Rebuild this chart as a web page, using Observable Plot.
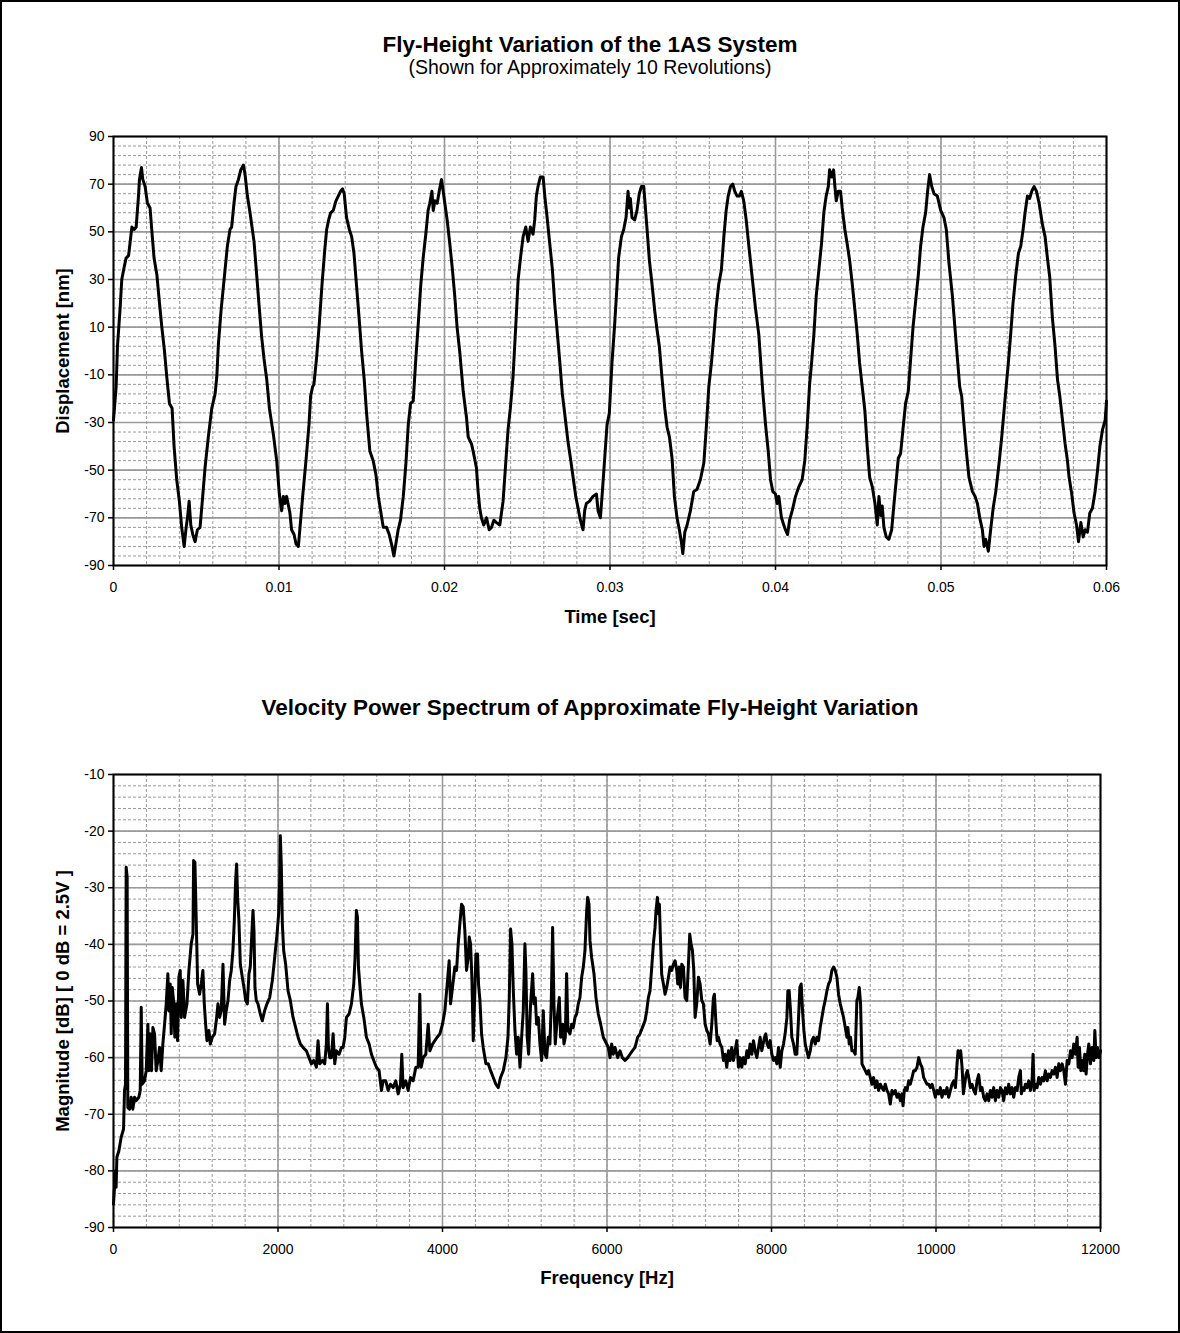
<!DOCTYPE html>
<html>
<head>
<meta charset="utf-8">
<script src="https://cdn.jsdelivr.net/npm/d3@7"></script>
<script src="https://cdn.jsdelivr.net/npm/@observablehq/plot@0.6"></script>
<style>
  body { margin: 0; background: #fff; }
  #page { position: relative; width: 1180px; height: 1333px; overflow: hidden; background: #fff;
          font-family: "Liberation Sans", Arial, sans-serif; color: #000; }
  #border { position: absolute; left: 0; top: 0; width: 1180px; height: 1333px; box-sizing: border-box;
            border: 2px solid #000; pointer-events: none; }
  .t { position: absolute; left: 0; width: 1180px; text-align: center; line-height: 1; white-space: nowrap; }
  .chart { position: absolute; left: 0; }
</style>
</head>
<body>
<div id="page">
  <div class="t" style="top:34px;font-size:22.5px;font-weight:bold;">Fly-Height Variation of the 1AS System</div>
  <div class="t" style="top:58px;font-size:19.5px;">(Shown for Approximately 10 Revolutions)</div>
  <div class="chart" id="chart1" style="top:100px;"></div>
  <div class="t" style="top:697px;font-size:22.5px;font-weight:bold;">Velocity Power Spectrum of Approximate Fly-Height Variation</div>
  <div class="chart" id="chart2" style="top:740px;"></div>
  <div id="border"></div>
</div>
<script>
// ---------- Data: fly-height time series, [time in ms, displacement in nm] ----------
const flyHeight = [
[0,-29],[0.16,-15],[0.24,2],[0.40,18],[0.50,30],[0.64,35],[0.76,39],[0.91,40],[1.01,46],[1.11,52],[1.25,51],[1.37,52],[1.51,65],[1.57,72],[1.69,77],[1.77,72],[1.91,69],[2.05,62],[2.21,60],[2.31,51],[2.45,39],[2.62,32],[2.78,20],[2.92,10],[3.08,0],[3.22,-11],[3.38,-22],[3.54,-24],[3.66,-40],[3.82,-54],[3.98,-63],[4.12,-74],[4.27,-82],[4.39,-74],[4.47,-70],[4.57,-63],[4.67,-73],[4.79,-77],[4.93,-80],[5.07,-75],[5.23,-74],[5.39,-61],[5.53,-49],[5.73,-36],[5.94,-24],[6.14,-18],[6.24,-11],[6.34,3],[6.50,17],[6.64,27],[6.74,34],[6.88,44],[7.04,51],[7.14,52],[7.28,62],[7.40,69],[7.55,72],[7.69,76],[7.85,78],[7.95,74],[8.09,65],[8.25,58],[8.35,53],[8.49,46],[8.65,32],[8.81,18],[8.95,6],[9.09,-3],[9.26,-12],[9.42,-24],[9.66,-35],[9.86,-46],
[10.02,-60],[10.16,-67],[10.26,-61],[10.36,-64],[10.46,-61],[10.66,-68],[10.76,-75],[10.91,-77],[11.03,-81],[11.17,-82],[11.27,-74],[11.43,-61],[11.63,-46],[11.81,-31],[11.91,-19],[12.03,-15],[12.11,-14],[12.27,-3],[12.43,11],[12.60,28],[12.76,42],[12.88,51],[13.00,55],[13.12,58],[13.28,59],[13.44,63],[13.58,65],[13.72,67],[13.84,68],[13.94,66],[14.08,56],[14.25,51],[14.39,48],[14.53,41],[14.69,27],[14.85,13],[14.99,0],[15.15,-12],[15.29,-26],[15.49,-42],[15.69,-46],[15.86,-52],[16.00,-61],[16.14,-67],[16.30,-74],[16.50,-74],[16.66,-77],[16.80,-81],[16.94,-86],[17.06,-81],[17.20,-75],[17.34,-71],[17.51,-61],[17.67,-47],[17.81,-31],[17.95,-22],[18.11,-21],[18.27,-3],[18.41,11],[18.57,28],[18.71,39],[18.87,49],[19.01,59],[19.11,62],[19.24,67],[19.32,59],[19.42,63],[19.56,62],[19.68,67],[19.82,72],[19.92,67],
[20.02,62],[20.16,55],[20.32,45],[20.48,34],[20.62,23],[20.76,10],[20.93,-1],[21.13,-17],[21.33,-28],[21.43,-36],[21.63,-39],[21.73,-42],[21.93,-49],[22.03,-59],[22.13,-66],[22.23,-70],[22.37,-73],[22.54,-70],[22.70,-75],[22.84,-74],[22.98,-71],[23.14,-72],[23.34,-73],[23.54,-63],[23.70,-47],[23.84,-33],[23.98,-24],[24.14,-11],[24.31,11],[24.45,30],[24.59,39],[24.75,48],[24.91,52],[25.05,46],[25.19,52],[25.35,49],[25.45,55],[25.55,65],[25.65,69],[25.79,73],[25.96,73],[26.06,65],[26.20,56],[26.36,45],[26.52,34],[26.66,20],[26.80,9],[26.96,-4],[27.12,-18],[27.26,-26],[27.46,-38],[27.61,-45],[27.77,-53],[27.93,-61],[28.07,-66],[28.21,-71],[28.37,-75],[28.47,-67],[28.57,-64],[28.77,-63],[28.97,-61],[29.18,-60],[29.28,-67],[29.42,-70],[29.54,-59],[29.68,-45],[29.82,-31],[29.96,-26],
[30.12,-5],[30.28,11],[30.42,27],[30.52,39],[30.69,48],[30.83,51],[30.97,56],[31.09,67],[31.17,60],[31.23,64],[31.33,56],[31.49,55],[31.63,59],[31.77,66],[31.90,69],[32.04,69],[32.14,60],[32.24,51],[32.38,38],[32.54,28],[32.70,17],[32.84,9],[32.98,2],[33.15,-12],[33.31,-24],[33.45,-32],[33.59,-36],[33.75,-45],[33.89,-61],[34.05,-70],[34.19,-75],[34.31,-80],[34.40,-85],[34.52,-76],[34.66,-73],[34.86,-67],[35.06,-59],[35.26,-58],[35.46,-54],[35.67,-47],[35.81,-33],[35.97,-15],[36.13,-5],[36.27,6],[36.41,18],[36.57,28],[36.73,34],[36.88,48],[37.02,59],[37.14,65],[37.28,69],[37.42,70],[37.54,67],[37.68,65],[37.82,65],[37.94,67],[38.08,63],[38.23,55],[38.39,44],[38.59,31],[38.79,18],[38.99,7],[39.09,-3],[39.23,-17],[39.40,-31],[39.56,-42],[39.70,-54],[39.84,-59],
[40.00,-60],[40.10,-64],[40.20,-61],[40.36,-70],[40.50,-73],[40.60,-75],[40.73,-77],[40.85,-71],[41.01,-67],[41.21,-61],[41.41,-57],[41.61,-54],[41.77,-46],[41.92,-31],[42.06,-14],[42.18,-5],[42.32,7],[42.46,23],[42.62,34],[42.78,45],[42.92,58],[43.06,65],[43.19,69],[43.27,76],[43.39,73],[43.51,76],[43.59,69],[43.67,63],[43.79,67],[43.93,67],[44.03,60],[44.19,51],[44.33,45],[44.48,38],[44.64,28],[44.80,17],[44.94,7],[45.08,-5],[45.24,-15],[45.40,-25],[45.54,-40],[45.69,-53],[45.85,-57],[46.01,-64],[46.15,-73],[46.25,-61],[46.35,-69],[46.45,-65],[46.55,-74],[46.69,-78],[46.85,-79],[47.02,-75],[47.16,-64],[47.30,-54],[47.42,-45],[47.56,-43],[47.70,-33],[47.86,-22],[48.02,-17],[48.17,-3],[48.31,10],[48.47,21],[48.63,32],[48.77,44],[48.91,52],[49.07,58],[49.19,67],[49.31,74],[49.44,69],[49.58,66],[49.78,65],[49.98,59],
[50.18,56],[50.32,51],[50.48,37],[50.69,23],[50.85,9],[50.99,-3],[51.13,-15],[51.25,-19],[51.39,-31],[51.53,-42],[51.69,-53],[51.90,-59],[52.06,-61],[52.20,-64],[52.34,-70],[52.50,-75],[52.60,-82],[52.70,-79],[52.86,-84],[53.00,-75],[53.15,-66],[53.31,-59],[53.51,-47],[53.67,-36],[53.81,-25],[53.91,-17],[54.07,-5],[54.21,7],[54.35,20],[54.52,32],[54.68,41],[54.82,44],[54.96,51],[55.08,58],[55.22,65],[55.36,64],[55.48,67],[55.63,69],[55.77,67],[55.93,62],[56.13,53],[56.29,48],[56.43,39],[56.57,31],[56.73,14],[56.89,2],[57.04,-12],[57.18,-19],[57.34,-29],[57.50,-39],[57.64,-46],[57.74,-53],[57.90,-60],[58.04,-68],[58.19,-73],[58.31,-80],[58.45,-72],[58.59,-78],[58.71,-75],[58.85,-76],[58.99,-68],[59.15,-66],[59.31,-59],[59.46,-50],[59.60,-40],[59.76,-33],[59.92,-29],[60.00,-21]
];

// ---------- Data: velocity power spectrum, [frequency in Hz, magnitude in dB] ----------
const spectrum = [
[0,-85.9],[12,-82.9],[24,-80],[32,-82.9],[41,-77.6],[65,-76.5],[93,-74.1],[122,-72.6],[134,-65.8],[146,-64.7],[154,-26.4],[166,-28.1],[174,-68.8],[195,-69.1],[215,-67],[235,-69.1],[256,-67],[276,-67.6],[308,-67],[325,-65.8],[337,-51.1],[349,-64.7],[377,-64.1],[398,-62.3],[418,-54.1],[430,-62.3],[446,-55.8],[462,-62.3],[479,-54.7],[499,-55.8],[519,-62.3],[540,-60.5],[560,-58.2],[580,-62.3],[600,-57.6],[621,-54.1],[641,-50.5],[661,-45.2],[673,-51.7],[690,-47],[702,-55.8],[714,-47.6],[730,-49.9],[746,-56.4],[763,-50.5],[779,-57],[795,-45.8],[811,-44.6],[824,-52.9],[844,-46.4],[864,-52.9],[893,-50.5],[917,-44.6],[945,-39.9],[966,-38.2],[974,-25.2],[990,-25.5],
[1006,-35.8],[1023,-47],[1047,-48.8],[1067,-47],[1087,-44.6],[1104,-50.5],[1120,-54.1],[1136,-57],[1160,-55.2],[1177,-57.6],[1201,-56.4],[1229,-55.8],[1250,-53.5],[1270,-50.5],[1290,-52.9],[1310,-51.7],[1331,-43.5],[1351,-54.1],[1371,-51.7],[1392,-49.9],[1412,-46.4],[1432,-44.6],[1452,-41.1],[1469,-35.8],[1485,-28.7],[1497,-25.8],[1509,-31.7],[1525,-35.8],[1542,-43.5],[1566,-45.8],[1586,-47.6],[1607,-49.9],[1627,-50.5],[1647,-45.2],[1663,-44],[1680,-38.7],[1696,-34],[1708,-37.6],[1720,-47.6],[1736,-49.9],[1757,-50.5],[1785,-52.3],[1809,-53.5],[1838,-51.7],[1866,-50.5],[1899,-49.4],[1931,-46.4],[1960,-42.3],[1988,-38.2],
[2008,-34.6],[2020,-28.7],[2028,-20.8],[2040,-25.8],[2053,-36.4],[2069,-41.1],[2093,-43.5],[2122,-48.2],[2150,-49.9],[2183,-52.9],[2215,-54.7],[2244,-56.4],[2272,-57.6],[2304,-58.2],[2345,-58.8],[2377,-60],[2406,-61.1],[2434,-60.5],[2467,-61.7],[2487,-57],[2507,-61.1],[2540,-60.5],[2568,-61.1],[2588,-57.6],[2601,-50.5],[2613,-58.2],[2629,-60],[2649,-60],[2670,-55.8],[2690,-61.1],[2710,-58.8],[2743,-59.4],[2771,-58.2],[2791,-58.2],[2812,-56.4],[2832,-52.9],[2864,-52.3],[2893,-50.5],[2921,-47],[2937,-42.3],[2953,-34],[2966,-35.2],[2978,-44],[2994,-47],
[3014,-50.5],[3043,-52.9],[3075,-56.4],[3108,-57.6],[3136,-59.4],[3164,-60.5],[3197,-61.7],[3229,-62.3],[3258,-65.8],[3278,-64.1],[3310,-64.1],[3339,-65.8],[3367,-64.7],[3400,-65.3],[3432,-64.1],[3461,-66.4],[3489,-64.7],[3505,-59.4],[3521,-65.3],[3554,-64.1],[3582,-65.8],[3611,-63.5],[3643,-64.1],[3676,-61.7],[3704,-61.7],[3724,-48.8],[3741,-61.7],[3765,-60],[3797,-59.4],[3826,-54.1],[3846,-58.8],[3879,-57.6],[3907,-57],[3935,-56.4],[3968,-55.8],
[4000,-54.1],[4029,-51.7],[4057,-47],[4081,-42.9],[4098,-50.5],[4122,-47.6],[4150,-44],[4171,-44.6],[4191,-39.9],[4211,-36.4],[4232,-32.9],[4252,-33.4],[4272,-37.6],[4292,-44.6],[4313,-42.3],[4325,-38.7],[4341,-39.9],[4357,-45.8],[4374,-57],[4394,-48.2],[4406,-41.7],[4426,-41.7],[4438,-47],[4455,-49.9],[4475,-55.8],[4495,-58.2],[4528,-61.1],[4556,-61.1],[4585,-62.3],[4617,-63.5],[4649,-64.7],[4678,-65.3],[4706,-63.5],[4739,-62.3],[4771,-60],[4796,-56.4],[4812,-49.4],[4828,-37.3],[4844,-39.9],[4861,-48.2],[4881,-55.2],[4901,-59.4],[4921,-56.4],[4942,-61.7],[4962,-56.4],[4982,-51.7],
[5002,-39.9],[5014,-44.6],[5030,-56.4],[5047,-59.4],[5071,-50.5],[5096,-45.2],[5112,-50.5],[5128,-49.4],[5144,-54.1],[5165,-52.9],[5185,-57.6],[5205,-60.5],[5225,-51.7],[5246,-59.4],[5266,-60],[5286,-56.4],[5306,-57.6],[5322,-50.5],[5339,-37],[5355,-50.5],[5371,-57.6],[5396,-52.9],[5420,-49.4],[5436,-56.4],[5461,-54.1],[5477,-57.6],[5493,-56.4],[5509,-45.2],[5525,-55.2],[5550,-55.8],[5570,-54.1],[5590,-54.7],[5611,-52.9],[5631,-52.3],[5651,-50.5],[5671,-49.4],[5692,-45.8],[5712,-44],[5732,-41.1],[5753,-34],[5765,-31.7],[5781,-32.9],[5793,-39.3],[5813,-42.3],[5842,-45.2],[5866,-49.4],[5894,-52.3],[5923,-54.1],[5955,-56.4],[5996,-57.6],
[6016,-58.2],[6037,-60],[6057,-57.6],[6077,-59.4],[6097,-58.2],[6130,-60],[6158,-58.8],[6187,-60],[6219,-60.5],[6252,-60],[6280,-59.4],[6308,-58.8],[6341,-58.2],[6373,-56.4],[6402,-55.8],[6430,-54.7],[6462,-53.5],[6483,-51.7],[6503,-49.4],[6523,-48.2],[6544,-44],[6564,-39.9],[6584,-37],[6596,-34],[6613,-31.7],[6625,-34.6],[6637,-32.9],[6649,-38.7],[6665,-45.3],[6686,-47],[6706,-48.8],[6726,-47.6],[6747,-45.8],[6767,-44],[6787,-44.6],[6807,-43.5],[6828,-42.9],[6848,-44.6],[6860,-47],[6876,-44],[6893,-47.6],[6909,-43.5],[6929,-44],[6949,-49.4],[6970,-49.9],[6990,-43.5],
[7006,-38.2],[7022,-39.9],[7039,-41.1],[7055,-44.6],[7071,-52.9],[7091,-50.5],[7112,-45.8],[7132,-47],[7152,-49.9],[7172,-50.5],[7193,-54.1],[7213,-55.2],[7233,-55.8],[7254,-57.6],[7274,-54.1],[7294,-49.4],[7306,-48.8],[7323,-53.5],[7339,-57],[7355,-56.4],[7375,-57.6],[7396,-58.2],[7416,-60.5],[7436,-59.4],[7456,-61.7],[7477,-58.8],[7497,-60.5],[7517,-58.2],[7538,-60.5],[7558,-58.8],[7578,-57],[7598,-61.7],[7619,-60],[7639,-61.7],[7659,-60],[7680,-61.1],[7700,-58.8],[7720,-60],[7740,-57.6],[7761,-59.4],[7781,-57],[7801,-58.8],[7822,-60],[7842,-58.2],[7862,-56.4],[7882,-58.8],[7915,-56.4],[7931,-55.8],[7947,-57.6],[7964,-58.2],[7984,-57],
[8004,-59.4],[8024,-60.5],[8045,-60],[8065,-61.1],[8085,-58.2],[8106,-61.7],[8126,-58.8],[8146,-57.6],[8166,-55.8],[8187,-52.9],[8199,-48.2],[8215,-48.2],[8231,-51.7],[8247,-56.4],[8268,-57.6],[8288,-59.4],[8308,-59.4],[8329,-52.9],[8345,-47.6],[8361,-47],[8377,-51.7],[8394,-55.2],[8410,-57.6],[8430,-58.8],[8450,-60],[8471,-58.8],[8491,-57],[8511,-56.4],[8532,-57.6],[8552,-56.4],[8572,-57],[8592,-54.7],[8613,-52.9],[8633,-51.2],[8653,-49.9],[8674,-48.2],[8694,-47],[8714,-46.4],[8734,-44.6],[8755,-44],[8775,-44.6],[8795,-45.8],[8815,-48.8],[8836,-50.5],[8856,-51.7],[8876,-52.9],[8897,-54.7],[8917,-56.4],[8929,-54.7],[8945,-57.6],[8961,-56.4],[8978,-58.8],[8998,-58.8],
[9018,-59.4],[9038,-49.9],[9050,-49.4],[9067,-47.6],[9083,-50.5],[9100,-61.1],[9120,-61.7],[9140,-62.3],[9160,-62.9],[9180,-62.3],[9201,-63.5],[9221,-64.7],[9241,-63.5],[9262,-65.3],[9282,-64.1],[9302,-65.8],[9323,-64.7],[9343,-65.3],[9363,-65.8],[9383,-64.7],[9404,-65.8],[9424,-66.4],[9444,-68.2],[9465,-65.8],[9485,-66.4],[9505,-65.8],[9526,-67],[9546,-66.4],[9566,-67.6],[9586,-66.4],[9599,-68.5],[9615,-65.8],[9627,-65.3],[9648,-65.8],[9668,-64.1],[9688,-64.7],[9709,-63.5],[9729,-62.3],[9749,-62.3],[9769,-61.7],[9790,-60],[9810,-61.1],[9830,-61.7],[9850,-63.5],[9870,-64.1],[9891,-64.7],[9911,-64.7],[9931,-65.3],[9952,-64.7],[9972,-65.8],[9992,-67],
[10012,-65.8],[10033,-66.4],[10053,-65.3],[10073,-67],[10093,-65.8],[10114,-66.4],[10134,-65.3],[10154,-67],[10175,-65.8],[10195,-64.7],[10215,-64.1],[10236,-65.3],[10256,-61.1],[10268,-58.8],[10284,-60],[10300,-58.8],[10317,-61.7],[10333,-66.4],[10349,-64.7],[10365,-63],[10381,-62.3],[10398,-63.5],[10418,-65.3],[10438,-64.7],[10459,-65.8],[10479,-66.4],[10499,-64.1],[10519,-63],[10540,-65.8],[10560,-65.3],[10580,-67],[10600,-67.6],[10621,-66.4],[10641,-67.6],[10661,-65.8],[10681,-67],[10702,-65.3],[10722,-67.6],[10742,-65.8],[10763,-67],[10783,-65.3],[10803,-65.8],[10823,-67.6],[10844,-65.3],[10864,-66.4],[10884,-64.7],[10905,-66.4],[10925,-65.3],[10945,-67],[10965,-65.3],[10986,-65.8],
[11006,-63.5],[11026,-62.3],[11038,-66.4],[11054,-65.3],[11071,-65.8],[11087,-64.7],[11107,-65.3],[11127,-64.1],[11148,-65.8],[11168,-64.1],[11180,-59.4],[11193,-65.8],[11209,-64.7],[11229,-65.3],[11249,-63.5],[11270,-64.7],[11290,-63.5],[11310,-64.1],[11330,-62.3],[11351,-64.1],[11371,-62.9],[11391,-63.5],[11412,-62.3],[11432,-62.9],[11452,-61.7],[11473,-63.5],[11493,-61.1],[11513,-62.3],[11534,-61.1],[11554,-62.3],[11574,-64.7],[11594,-60.5],[11615,-61.1],[11635,-58.8],[11655,-60],[11675,-57.6],[11696,-59.4],[11716,-56.4],[11728,-61.7],[11744,-58.2],[11761,-62.3],[11777,-60.5],[11793,-62.3],[11809,-59.4],[11825,-62.9],[11842,-59.4],[11858,-57.6],[11878,-61.1],[11898,-58.2],[11919,-60.5],[11931,-55.2],[11947,-60],[11963,-58.2],[11980,-60],[12000,-58.8]
];

// ---------- Tick values ----------
const timeTicks = [0, 0.01, 0.02, 0.03, 0.04, 0.05, 0.06];
const displacementTicks = [-90, -70, -50, -30, -10, 10, 30, 50, 70, 90];
const freqTicks = [0, 2000, 4000, 6000, 8000, 10000, 12000];
const magnitudeTicks = [-90, -80, -70, -60, -50, -40, -30, -20, -10];

// minor gridline positions
const timeMinor = d3.range(0, 61, 2).map(d => d / 1000);
const displacementMinor = d3.range(-90, 91, 4);
const freqMinor = d3.range(0, 12001, 400);
const magnitudeMinor = d3.range(-90, -9, 2);

const FONT = '"Liberation Sans", Arial, sans-serif';
const GRID = "#9a9a9a";

function grid(xMinor, yMinor, xMajor, yMajor) {
  return [
    Plot.ruleX(xMinor, {stroke: GRID, strokeWidth: 1, strokeDasharray: "3,2"}),
    Plot.ruleY(yMinor, {stroke: GRID, strokeWidth: 1, strokeDasharray: "3,2"}),
    Plot.ruleX(xMajor, {stroke: GRID, strokeWidth: 1.6}),
    Plot.ruleY(yMajor, {stroke: GRID, strokeWidth: 1.6})
  ];
}

function axes(xTicks, yTicks, xTitle, yTitle, titleGap) {
  return [
    Plot.axisX(xTicks, {tickSize: 5, tickPadding: 12, tickFormat: d => String(d), fontSize: 14, strokeWidth: 1.5, label: null}),
    Plot.axisY(yTicks, {tickSize: 5, tickPadding: 4, tickFormat: d => String(d), fontSize: 14, strokeWidth: 1.5, label: null}),
    Plot.text([xTitle], {text: d => d, frameAnchor: "bottom", textAnchor: "middle", lineAnchor: "middle", dy: titleGap, fontSize: 18.5, fontWeight: "bold"}),
    Plot.text([yTitle], {text: d => d, frameAnchor: "left", textAnchor: "middle", lineAnchor: "middle", dx: -50, rotate: -90, fontSize: 18.5, fontWeight: "bold"})
  ];
}

const flyRows = flyHeight.map(([ms, nm]) => ({t: ms / 1000, v: nm}));
const specRows = spectrum.map(([hz, db]) => ({f: hz, v: db}));

const chart1 = Plot.plot({
  width: 1180, height: 540,
  marginLeft: 113, marginRight: 74, marginTop: 36, marginBottom: 75,
  style: {fontFamily: FONT, fontSize: "14px", color: "#000", background: "transparent", overflow: "visible"},
  x: {domain: [0, 0.06], label: null},
  y: {domain: [-90, 90], label: null},
  marks: [
    ...grid(timeMinor, displacementMinor, timeTicks, displacementTicks),
    Plot.line(flyRows, {x: "t", y: "v", stroke: "#000", strokeWidth: 3, strokeLinejoin: "round"}),
    Plot.frame({stroke: "#000", strokeWidth: 2}),
    ...axes(timeTicks, displacementTicks, "Time [sec]", "Displacement [nm]", 52)
  ]
});
document.getElementById("chart1").appendChild(chart1);

const chart2 = Plot.plot({
  width: 1180, height: 560,
  marginLeft: 113, marginRight: 80, marginTop: 34, marginBottom: 73,
  style: {fontFamily: FONT, fontSize: "14px", color: "#000", background: "transparent", overflow: "visible"},
  x: {domain: [0, 12000], label: null},
  y: {domain: [-90, -10], label: null},
  marks: [
    ...grid(freqMinor, magnitudeMinor, freqTicks, magnitudeTicks),
    Plot.line(specRows, {x: "f", y: "v", stroke: "#000", strokeWidth: 3, strokeLinejoin: "round"}),
    Plot.frame({stroke: "#000", strokeWidth: 2}),
    ...axes(freqTicks, magnitudeTicks, "Frequency [Hz]", "Magnitude [dB] [ 0 dB = 2.5V ]", 51)
  ]
});
document.getElementById("chart2").appendChild(chart2);
</script>
</body>
</html>
